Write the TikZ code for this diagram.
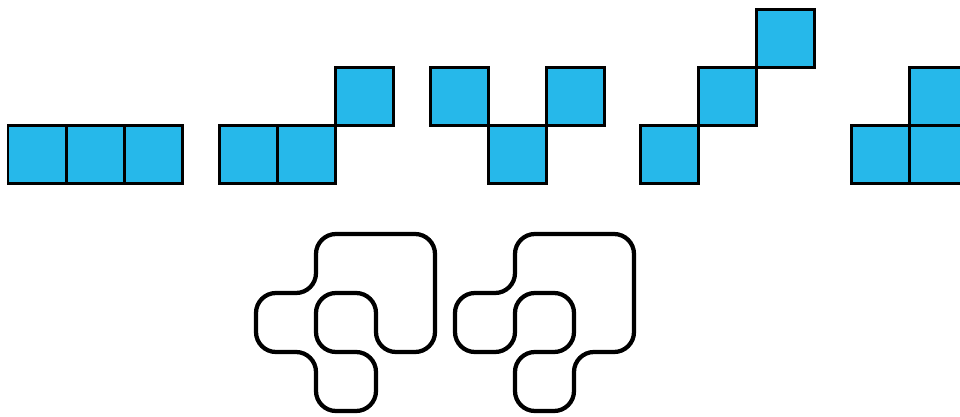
\documentclass[tikz,border=0pt]{standalone}
\usepackage[dvipsnames]{xcolor}
\usepackage{tikz}
\definecolor{tileblue}{RGB}{38,184,234}

\begin{document}
\begin{tikzpicture}[x=0.02cm,y=-0.02cm,
    cell/.style={fill=tileblue,draw=black,line width=0.06cm},
    loopline/.style={draw=black,line width=0.085cm,rounded corners=0.4cm}]
        % Frame
        \useasboundingbox (0,0) rectangle (960,416);
        \clip (0,0) rectangle (960,416);
        % Tiles
        \foreach \x/\y in {8/125,66.3/125,124.6/125,
                           219/125,277.3/125,335.6/67,
                           430/67,488.3/125,546.6/67,
                           640/125,698.3/67,756.6/9,
                           851/125,909.3/125,909.3/67}
          \draw[cell] (\x,\y) rectangle ++(58.3,58.3);
        % Left loop
        \draw[loopline] (316,234) -- (435,234) -- (435,352) -- (376,352)
          -- (376,293) -- (316,293) -- (316,352) -- (376,352) -- (376,411)
          -- (316,411) -- (316,352) -- (256,352) -- (256,293) -- (316,293) -- cycle;
        % Right loop
        \draw[loopline] (515,234) -- (634,234) -- (634,352) -- (574,352)
          -- (574,411) -- (515,411) -- (515,352) -- (574,352) -- (574,293)
          -- (515,293) -- (515,352) -- (455,352) -- (455,293) -- (515,293) -- cycle;
\end{tikzpicture}
\end{document}
